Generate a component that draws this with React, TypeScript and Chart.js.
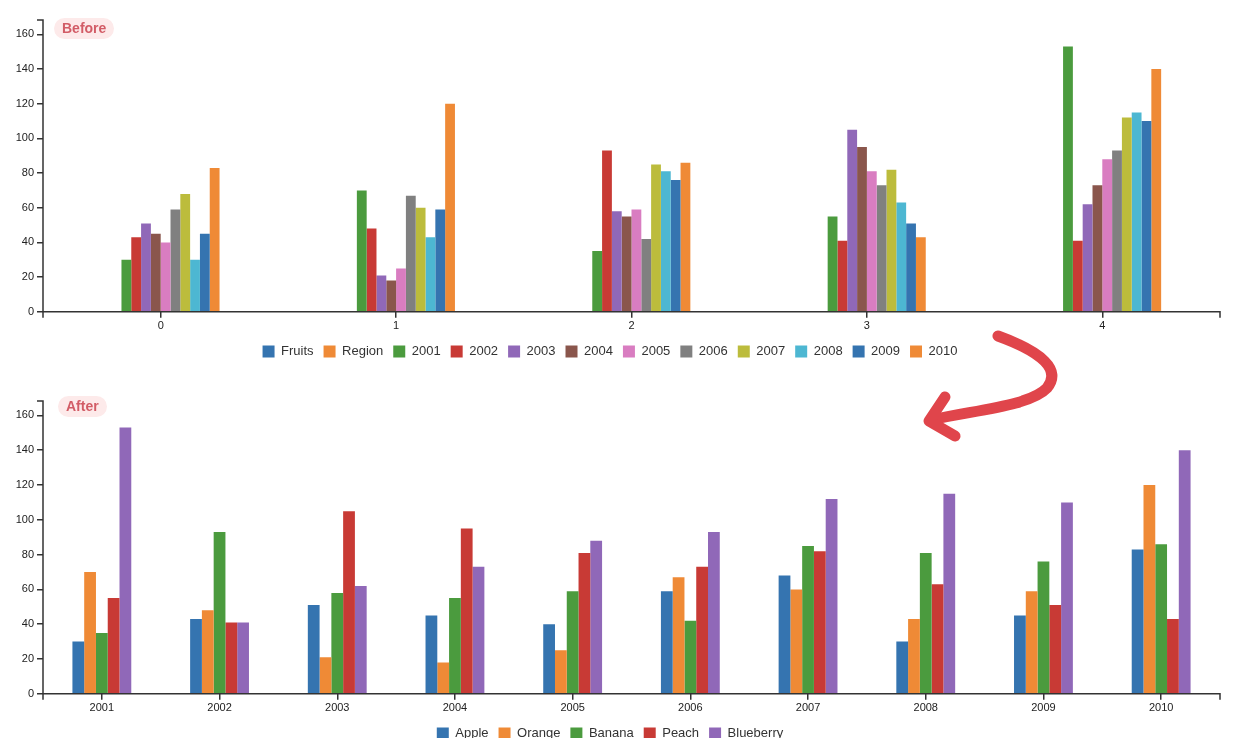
import React, { useEffect, useRef } from 'react';
import { Chart, registerables } from 'chart.js';

Chart.register(...registerables);

// ---------- data ----------
const groupLabels = ['0', '1', '2', '3', '4'];
const years = ['2001', '2002', '2003', '2004', '2005', '2006', '2007', '2008', '2009', '2010'];
const fruitNames = ['Apple', 'Orange', 'Banana', 'Peach', 'Blueberry'];

const appleValues = [30, 43, 51, 45, 40, 59, 68, 30, 45, 83];
const orangeValues = [70, 48, 21, 18, 25, 67, 60, 43, 59, 120];
const bananaValues = [35, 93, 58, 55, 59, 42, 85, 81, 76, 86];
const peachValues = [55, 41, 105, 95, 81, 73, 82, 63, 51, 43];
const blueberryValues = [153, 41, 62, 73, 88, 93, 112, 115, 110, 140];

const extraColumns = ['Fruits', 'Region'];
const yTicks = [0, 20, 40, 60, 80, 100, 120, 140, 160];

const palette = [
  '#3574b0', '#ef8a36', '#4b9b3e', '#c83a35', '#9068b8',
  '#8a564c', '#d97dc1', '#808080', '#bcbc3c', '#4db7d2',
];

const fruitValues = [appleValues, orangeValues, bananaValues, peachValues, blueberryValues];
const yMax = Math.max(...fruitValues.flat()) * 1.1;

const FONT = '"Liberation Sans", Arial, Helvetica, sans-serif';
const AXIS = '#333';

const d3AxisPlugin = {
  id: 'd3Axis',
  afterDraw(chart: any) {
    const { ctx, chartArea } = chart;
    const { left, right, top, bottom } = chartArea;
    ctx.save();
    ctx.strokeStyle = AXIS;
    ctx.lineWidth = 1.5;
    ctx.beginPath();
    ctx.moveTo(left - 6, top);
    ctx.lineTo(left, top);
    ctx.lineTo(left, bottom);
    ctx.moveTo(left, bottom + 6);
    ctx.lineTo(left, bottom);
    ctx.lineTo(right, bottom);
    ctx.lineTo(right, bottom + 6);
    ctx.stroke();
    ctx.restore();
  },
};

function makeOptions(padTop: number) {
  return {
    responsive: false,
    maintainAspectRatio: false,
    animation: false as const,
    layout: { padding: { top: padTop, right: 24, left: 0, bottom: 2 } },
    datasets: {
      bar: { categoryPercentage: 0.5, barPercentage: 1, borderWidth: 0 },
    },
    plugins: {
      tooltip: { enabled: false },
      legend: {
        position: 'bottom' as const,
        labels: {
          boxWidth: 12,
          boxHeight: 12,
          padding: 10,
          color: '#333',
          font: { family: FONT, size: 13 },
        },
      },
    },
    scales: {
      x: {
        offset: true,
        border: { display: false },
        grid: {
          offset: false,
          drawOnChartArea: false,
          drawTicks: true,
          tickLength: 6,
          color: AXIS,
          lineWidth: 1.5,
        },
        ticks: { color: '#222', padding: 2, font: { family: FONT, size: 11 } },
      },
      y: {
        min: 0,
        max: yMax,
        border: { display: false },
        afterFit: (s: any) => {
          s.width = 43;
        },
        afterBuildTicks: (s: any) => {
          s.ticks = yTicks.map((v) => ({ value: v }));
        },
        grid: {
          drawOnChartArea: false,
          drawTicks: true,
          tickLength: 6,
          color: AXIS,
          lineWidth: 1.5,
        },
        ticks: { color: '#222', padding: 3, font: { family: FONT, size: 11 } },
      },
    },
  };
}

function BarCanvas({ config, top, height }: { config: any; top: number; height: number }) {
  const ref = useRef<HTMLCanvasElement>(null);
  useEffect(() => {
    if (!ref.current) return;
    const chart = new Chart(ref.current, config);
    return () => chart.destroy();
  }, []);
  return (
    <canvas
      ref={ref}
      width={1244}
      height={height}
      style={{ position: 'absolute', left: 0, top, width: 1244, height, display: 'block' }}
    />
  );
}

function Pill({ text, left, top }: { text: string; left: number; top: number }) {
  return (
    <div
      style={{
        position: 'absolute',
        left,
        top,
        padding: '3px 8px',
        borderRadius: 11,
        background: '#fdeaea',
        color: '#d25c66',
        fontFamily: FONT,
        fontWeight: 700,
        fontSize: 14,
        lineHeight: '15px',
      }}
    >
      {text}
    </div>
  );
}

export default function App() {
  const beforeConfig = {
    type: 'bar',
    data: {
      labels: groupLabels,
      datasets: [
        ...extraColumns.map((name, i) => ({
          label: name,
          data: groupLabels.map(() => null),
          backgroundColor: palette[i % palette.length],
        })),
        ...years.map((y, i) => ({
          label: y,
          data: fruitValues.map((arr) => arr[i]),
          backgroundColor: palette[(i + extraColumns.length) % palette.length],
        })),
      ],
    },
    options: makeOptions(20),
    plugins: [d3AxisPlugin],
  };

  const afterConfig = {
    type: 'bar',
    data: {
      labels: years,
      datasets: fruitNames.map((name, i) => ({
        label: name,
        data: fruitValues[i],
        backgroundColor: palette[i],
      })),
    },
    options: makeOptions(21),
    plugins: [d3AxisPlugin],
  };

  return (
    <div
      style={{
        position: 'fixed',
        left: 0,
        top: 0,
        width: 1244,
        height: 738,
        background: '#fff',
        overflow: 'hidden',
      }}
    >
      <BarCanvas config={beforeConfig} top={0} height={370} />
      <BarCanvas config={afterConfig} top={380} height={372} />
      <Pill text="Before" left={54} top={18} />
      <Pill text="After" left={58} top={396} />
      <svg
        width={1244}
        height={738}
        style={{ position: 'absolute', left: 0, top: 0, pointerEvents: 'none' }}
      >
        <g
          fill="none"
          stroke="#e0454b"
          strokeWidth={11}
          strokeLinecap="round"
          strokeLinejoin="round"
        >
          <path d="M998,336 C1042,352 1062,370 1047,388 C1030,406 975,410 931,420" />
          <path d="M945,397 L929,421 L955,436" />
        </g>
      </svg>
    </div>
  );
}
